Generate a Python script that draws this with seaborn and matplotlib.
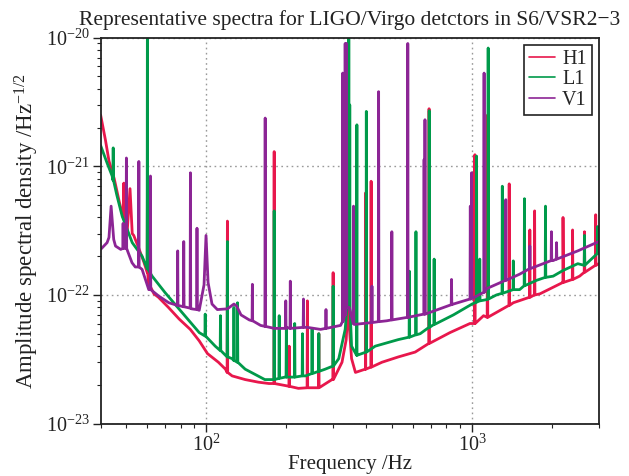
import numpy as np
import pandas as pd
import matplotlib
matplotlib.use("Agg")
import matplotlib.pyplot as plt
from matplotlib.lines import Line2D
import seaborn as sns

# ---------------- data ----------------
detectors = ["H1", "L1", "V1"]
colors = {"H1": "#e8174c", "L1": "#009a4a", "V1": "#8c2595"}
x_ticks = [100, 1000]
y_ticks = [1e-23, 1e-22, 1e-21, 1e-20]

# H1 broadband floor
h1_freq = [40, 41.7, 43, 45, 47, 49, 50.4, 51.6, 52.6, 53.3, 55.7, 58.2, 60.5, 63.5, 66, 72, 79, 87, 94,
           101, 111, 118, 125, 140, 157, 172, 200, 222, 257, 297, 324, 336, 341, 352, 364, 397, 458,
           528, 611, 706, 826, 982, 1105, 1430, 1800, 2200, 2540, 3000]
h1_asd = [2.5e-21, 1.6e-21, 1.1e-21, 8.0e-22, 5.3e-22, 3.9e-22, 3.2e-22, 6.7e-22, 3.0e-22, 2.9e-22,
          2.3e-22, 1.8e-22, 1.25e-22, 1.02e-22, 9.6e-23, 8.0e-23, 6.5e-23, 5.4e-23, 4.4e-23,
          3.5e-23, 3.0e-23, 2.65e-23, 2.35e-23, 2.2e-23, 2.1e-23, 2.05e-23, 1.97e-23, 1.88e-23,
          1.9e-23, 2.2e-23, 3.0e-23, 4.5e-23, 8e-23, 3.2e-23, 2.5e-23, 2.65e-23, 3.0e-23,
          3.3e-23, 3.6e-23, 4.3e-23, 5.1e-23, 6.0e-23, 6.9e-23, 8.7e-23, 1.02e-22, 1.25e-22, 1.4e-22, 1.75e-22]
# H1 lines: frequency, peak, floor at the line
h1_line_freq = [48.9, 60.0, 120, 180, 205, 240, 265, 300, 397, 417, 689, 1025, 1143, 1380, 1650, 1720,
                2200, 2390, 2650, 2920]
h1_line_peak = [7.4e-22, 6.6e-22, 3.75e-22, 1.3e-21, 4.0e-23, 9.0e-23, 5.0e-23, 1.49e-22, 6.2e-22, 7.65e-22,
                2.8e-21, 1.23e-21, 2.5e-21, 7.3e-22, 3.2e-22, 4.5e-22, 4.0e-22, 3.2e-22, 3.1e-22, 4.2e-22]
h1_line_floor = [3.9e-22, 1.5e-22, 2.5e-23, 2.05e-23, 1.95e-23, 1.9e-23, 1.9e-23, 2.2e-23, 2.65e-23, 2.75e-23,
                 4.2e-23, 6.0e-23, 6.7e-23, 8.3e-23, 9.6e-23, 1.0e-22, 1.25e-22, 1.32e-22, 1.5e-22, 1.7e-22]

# L1 broadband floor
l1_freq = [40, 42.3, 44.2, 46, 48.2, 52.6, 57.3, 62.5, 70, 81, 94, 108, 125, 140, 166, 198, 236, 280, 315,
           333, 341, 352, 369, 432, 528, 638, 746, 851, 1000, 1135, 1235, 1510, 1750, 2020, 2200, 2500, 3000]
l1_asd = [1.45e-21, 1.06e-21, 8.4e-22, 6.0e-22, 4.1e-22, 2.55e-22, 2.0e-22, 1.4e-22, 1.04e-22, 7.3e-23,
          5.1e-23, 4.0e-23, 3.2e-23, 2.65e-23, 2.2e-23, 2.3e-23, 2.35e-23, 2.65e-23, 3.2e-23, 5.4e-23,
          1e-22, 4e-23, 3.4e-23, 4.0e-23, 4.5e-23, 5.0e-23, 6.1e-23, 7.0e-23, 8.5e-23, 9.2e-23, 1.0e-22,
          1.1e-22, 1.3e-22, 1.4e-22, 1.55e-22, 1.75e-22, 2.15e-22]
l1_line_freq = [44.6, 60.0, 99, 113, 120, 127, 131, 180, 188, 200, 215, 230, 250, 265, 300, 343.6, 346.5,
                368.6, 400, 581, 615, 690, 720, 1040, 1069, 1150, 1300, 1430, 1575, 1890, 2650, 2970]
l1_line_peak = [1.39e-21, 3e-20, 7.1e-23, 6.9e-23, 2.6e-22, 8.0e-23, 8.7e-23, 4.5e-22, 6.9e-23, 5.5e-23,
                6.0e-23, 5.0e-23, 5.5e-23, 5.0e-23, 1.17e-22, 3e-20, 3e-21, 2.1e-21, 2.67e-21, 1.53e-22,
                3.1e-22, 2.7e-21, 1.9e-22, 1.2e-21, 1.9e-22, 8.3e-21, 7.0e-22, 1.84e-22, 5.6e-22, 4.9e-22,
                2.9e-22, 3.4e-22]
l1_line_floor = [7.8e-22, 1.6e-22, 4.8e-23, 3.7e-23, 3.3e-23, 3.1e-23, 3.0e-23, 2.2e-23, 2.25e-23, 2.3e-23,
                 2.3e-23, 2.35e-23, 2.45e-23, 2.55e-23, 2.8e-23, 8e-23, 8e-23, 3.4e-23, 3.6e-23, 4.7e-23,
                 4.9e-23, 5.6e-23, 5.9e-23, 8.8e-23, 9.0e-23, 9.3e-23, 1.03e-22, 1.1e-22, 1.18e-22, 1.37e-22,
                 1.7e-22, 2.1e-22]

# V1 broadband floor
v1_freq = [40, 42.3, 43.0, 43.8, 44.8, 45.5, 47.6, 50.5, 52.5, 54, 57.3, 60.7, 66.2, 72.2, 80, 88, 94, 98,
           99.7, 101.5, 105, 110, 120, 127, 130, 135, 145, 160, 180, 200, 240, 269, 320, 333, 345, 360,
           478, 638, 851, 1012, 1135, 1510, 2020, 2500, 3000]
v1_asd = [2.26e-22, 2.55e-22, 2.8e-22, 4.9e-22, 2.7e-22, 2.4e-22, 2.26e-22, 2.2e-22, 1.78e-22, 1.65e-22,
          1.58e-22, 1.1e-22, 9.8e-23, 8.7e-23, 8.2e-23, 7.8e-23, 7.6e-23, 1.2e-22, 2.9e-22, 1.25e-22,
          8.5e-23, 7.7e-23, 7.8e-23, 8.5e-23, 8.2e-23, 7.0e-23, 6.4e-23, 5.8e-23, 5.5e-23, 5.6e-23,
          5.6e-23, 5.4e-23, 5.8e-23, 7.0e-23, 8e-23, 5.9e-23, 6.3e-23, 7.0e-23, 8.5e-23, 9.5e-23,
          1.12e-22, 1.45e-22, 1.85e-22, 2.2e-22, 2.6e-22]
v1_line_freq = [48.6, 50.0, 55.7, 61.6, 78, 82.2, 87.1, 92.2, 149, 166.5, 199, 207, 232, 282, 326, 333, 337,
                358, 420, 445, 499, 573, 660, 665, 837, 985, 996, 1110, 1340, 1650, 1990, 2080]
v1_line_peak = [3.6e-22, 1.16e-21, 1.09e-21, 8.4e-22, 2.2e-22, 2.6e-22, 8.9e-22, 3.3e-22, 1.21e-22, 2.37e-21,
                9.0e-23, 1.28e-22, 9.3e-23, 7.7e-23, 5.3e-21, 9.0e-21, 9.0e-21, 4.9e-22, 1.17e-22, 3.8e-21,
                3.1e-22, 9.0e-21, 1.13e-21, 2.3e-21, 1.32e-22, 4.9e-22, 8.9e-22, 5.3e-21, 5.5e-22, 2.4e-22,
                3.1e-22, 2.55e-22]
v1_line_floor = [2.3e-22, 2.3e-22, 1.65e-22, 1.1e-22, 8.3e-23, 8.1e-23, 7.9e-23, 7.7e-23, 6.3e-23, 5.7e-23,
                 5.5e-23, 5.5e-23, 5.6e-23, 5.5e-23, 6.2e-23, 7e-23, 8e-23, 6.0e-23, 6.1e-23, 6.2e-23,
                 6.4e-23, 6.7e-23, 7.1e-23, 7.1e-23, 8.4e-23, 9.3e-23, 9.4e-23, 1.05e-22, 1.3e-22, 1.6e-22,
                 1.85e-22, 1.9e-22]

# ---------------- assemble ----------------
def assemble(name, freq, asd, lf, lp, lb, w=0.0025):
    f = list(freq)
    a = list(asd)
    for fi, pi, bi in zip(lf, lp, lb):
        f += [fi * (1 - w), fi, fi * (1 + w)]
        a += [bi, pi, bi]
    order = np.argsort(f, kind="stable")
    return pd.DataFrame({"freq": np.array(f)[order], "asd": np.array(a)[order], "det": name})

df = pd.concat([
    assemble("H1", h1_freq, h1_asd, h1_line_freq, h1_line_peak, h1_line_floor),
    assemble("L1", l1_freq, l1_asd, l1_line_freq, l1_line_peak, l1_line_floor),
    assemble("V1", v1_freq, v1_asd, v1_line_freq, v1_line_peak, v1_line_floor),
], ignore_index=True)

# ---------------- style ----------------
sns.set_theme(style="white")
plt.rcParams["font.family"] = ["Liberation Serif", "DejaVu Serif"]
plt.rcParams["mathtext.fontset"] = "custom"
plt.rcParams["mathtext.rm"] = "Liberation Serif"
plt.rcParams["mathtext.it"] = "Liberation Serif:italic"
plt.rcParams["mathtext.bf"] = "Liberation Serif:bold"
plt.rcParams["axes.unicode_minus"] = True

fig = plt.figure(figsize=(6.29, 4.76), dpi=100)
ax = fig.add_axes([0.160, 0.110, 0.792, 0.811])

sns.lineplot(data=df, x="freq", y="asd", hue="det", hue_order=detectors, palette=colors,
             estimator=None, sort=False, lw=2.0, ax=ax, legend=False)

ax.set_xscale("log")
ax.set_yscale("log")
ax.set_xticks(x_ticks)
ax.set_yticks(y_ticks)
ax.set_xlim(40, 3000)
ax.set_ylim(1e-23, 1e-20)

ax.grid(True, which="major", color="#999999", linestyle=(0, (1.2, 2.5)), linewidth=1.0)
ax.grid(False, which="minor")
for s in ax.spines.values():
    s.set_color("#222222")
    s.set_linewidth(1.3)

ax.tick_params(which="both", direction="out", colors="#222222", labelcolor="#222222",
               bottom=True, left=True, top=False, right=False)
ax.tick_params(which="major", length=5.5, width=1.0, labelsize=14.5, pad=2.5)
ax.tick_params(which="minor", length=3.2, width=0.8)

ax.set_xlabel("Frequency /Hz", fontsize=15, color="#222222", labelpad=-1)
ax.set_ylabel(r"Amplitude spectral density /Hz$^{-1/2}$", fontsize=16.5, color="#222222", labelpad=3)
ax.set_title("Representative spectra for LIGO/Virgo detctors in S6/VSR2\u22123", fontsize=15.5,
             color="#222222", pad=9)

handles = [Line2D([0], [0], color=colors[d], lw=1.2) for d in detectors]
leg = ax.legend(handles, detectors, loc="upper right", fontsize=14.5, frameon=True, fancybox=False,
                edgecolor="#222222", framealpha=1, handlelength=1.3, handletextpad=0.35,
                labelspacing=0.08, borderpad=0.25, borderaxespad=0.35)
leg.get_frame().set_linewidth(1.2)

fig.savefig("out.png", dpi=100)
